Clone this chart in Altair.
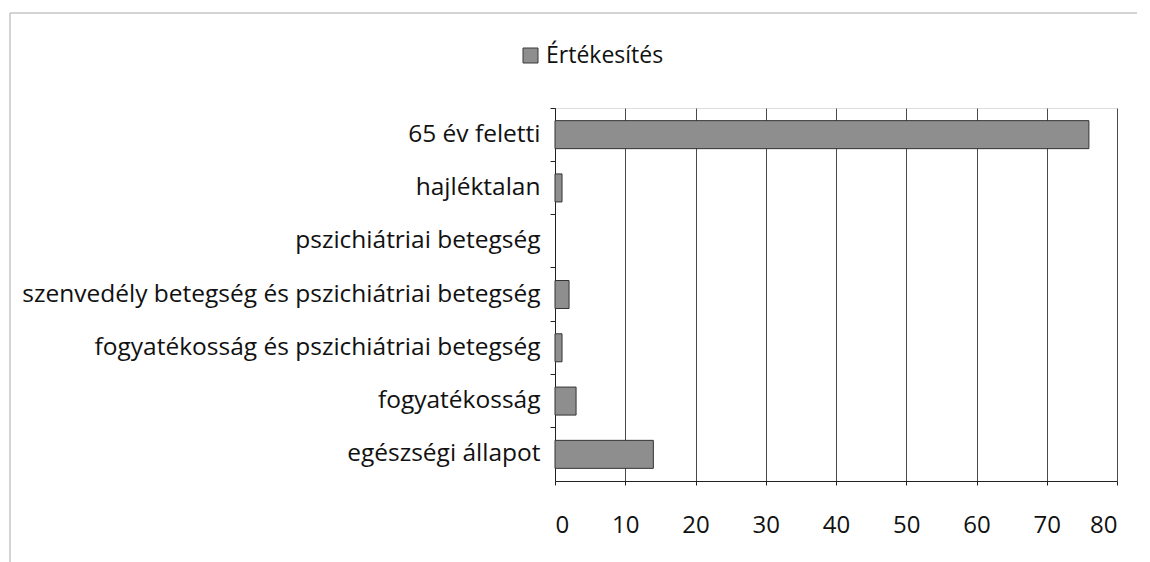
import altair as alt
import pandas as pd

categories = [
    "65 év feletti",
    "hajléktalan",
    "pszichiátriai betegség",
    "szenvedély betegség és pszichiátriai betegség",
    "fogyatékosság és pszichiátriai betegség",
    "fogyatékosság",
    "egészségi állapot",
]
values = [76, 1, 0, 2, 1, 3, 14]
series = ["Értékesítés"] * len(categories)

df = pd.DataFrame({"cat": categories, "val": values, "series": series})

FONT = "Open Sans"

bars = alt.Chart(df).mark_bar(size=28, strokeWidth=1).encode(
    y=alt.Y("cat:N", sort=categories, title=None,
            scale=alt.Scale(paddingInner=0, paddingOuter=0),
            axis=alt.Axis(bandPosition=0, labelFontSize=24.5, labelFont=FONT,
                          labelColor="#111", labelPadding=10, tickSize=5,
                          tickColor="#222", domainColor="#222", labelLimit=700)),
    x=alt.X("val:Q", title=None,
            scale=alt.Scale(domain=[0, 80]),
            axis=alt.Axis(values=[0, 10, 20, 30, 40, 50, 60, 70, 80],
                          labelFontSize=24, labelFont=FONT, labelColor="#111",
                          labelPadding=28, tickSize=4, tickColor="#222",
                          domainColor="#222", grid=True, gridColor="#4a4a4a",
                          gridWidth=1)),
    color=alt.Color("series:N", title=None,
                    scale=alt.Scale(range=["#8e8e8e"]),
                    legend=alt.Legend(orient="none", legendX=-36, legendY=-64,
                                      labelFontSize=23, labelFont=FONT,
                                      labelColor="#111", symbolType="square",
                                      symbolSize=225, symbolStrokeColor="#3a3a3a",
                                      symbolStrokeWidth=1, labelOffset=4)),
    stroke=alt.condition(alt.datum.val > 0, alt.value("#333333"), alt.value("transparent")),
)

frame = alt.Chart(pd.DataFrame({"f": [0]})).mark_rect(
    fill="transparent", stroke="#aaaaaa", strokeWidth=1
).encode(
    x=alt.value(-545), x2=alt.value(700),
    y=alt.value(-95), y2=alt.value(600),
)

chart = alt.layer(frame, bars).properties(
    width=562, height=373,
    autosize=alt.AutoSizeParams(type="none"),
    padding={"left": 547, "top": 100, "right": 20, "bottom": 81},
).configure_view(stroke=None).configure(background="white")

chart.save("out.html", embed_options={"renderer": "svg", "actions": False})
